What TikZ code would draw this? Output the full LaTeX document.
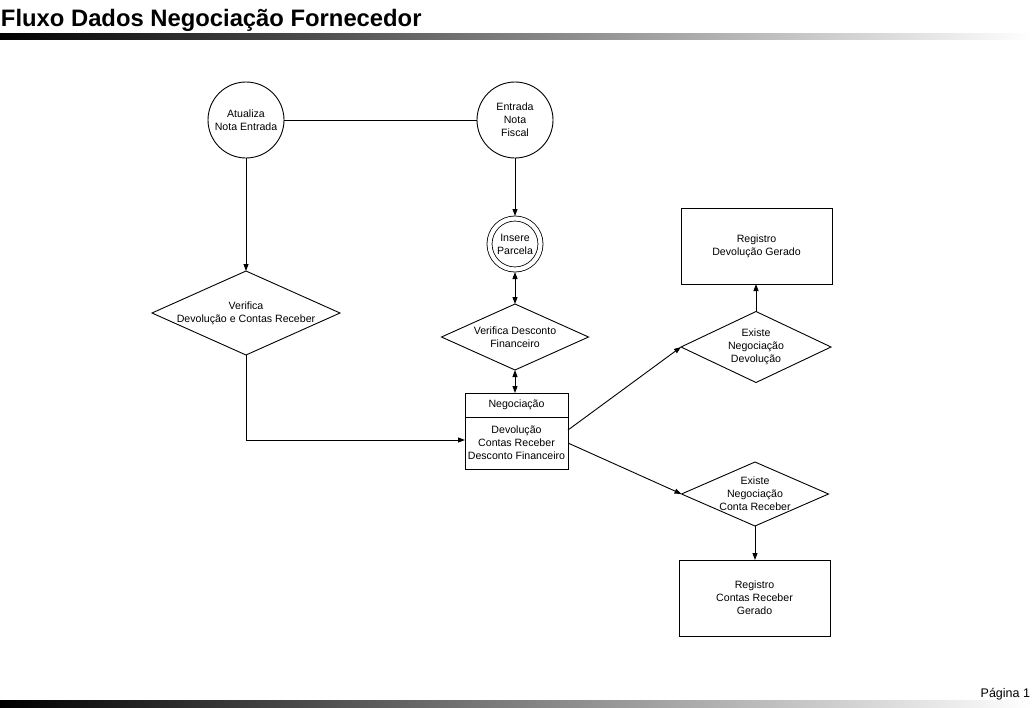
\documentclass[tikz,border=0pt]{standalone}
\usepackage{fontspec}
\setmainfont{Liberation Sans}
\usepackage{tikz}
\usetikzlibrary{shapes,arrows.meta,positioning}
\tikzset{
  >={Triangle[length=7pt,width=5pt]},
  every node/.style={font=\fontsize{10.6}{13}\selectfont,align=center,inner sep=0pt,outer sep=0pt},
  linha/.style={line width=0.9pt},
  processo/.style={circle,draw,line width=0.9pt,minimum size=76pt},
  duplo/.style={circle,draw,line width=0.8pt,double,double distance=4.2pt,minimum size=51pt,outer sep=2.5pt},
  decisao/.style args={#1,#2}{
  diamond,
  draw,
  line width=0.9pt,
  minimum width=#1pt,
  minimum height=#2pt,
  },
  registro/.style args={#1,#2}{
  rectangle,
  draw,
  line width=0.9pt,
  minimum width=#1pt,
  minimum height=#2pt,
  }
}

\begin{document}
\begin{tikzpicture}[x=1pt,y=-1pt]
  \useasboundingbox (0,0) rectangle (1032,707);

  \node[anchor=base west,font=\bfseries\fontsize{23.8}{28}\selectfont] (titulo) at (1,26) {Fluxo Dados Negociação Fornecedor};
  \shade[left color=black,right color=white] (0,33) rectangle (1032,39);
  \shade[left color=black,right color=white] (0,700) rectangle (1032,707);
  \node[anchor=base east,font=\fontsize{12.5}{15}\selectfont] (pagina) at (1030,697) {Página 1};

  \node[processo] (atual) at (246,120) {Atualiza\\Nota Entrada};
  \node[processo] (entrada) at (515,120) {Entrada\\Nota\\Fiscal};
  \node[duplo] (insere) at (515,244) {Insere\\Parcela};
  \node[decisao={188,84},label={center:{Verifica\\Devolução e Contas Receber}}] (verdev) at (246,313) {};
  \node[decisao={147,66},label={center:{Verifica Desconto\\Financeiro}}] (verdesc) at (515,337) {};

  \node[registro={103,24}] (neg) at (516.5,405) {Negociação};
  \node[registro={103,52},below=0pt of neg] (negc) {Devolução\\Contas Receber\\Desconto Financeiro};

  \node[decisao={150,71},label={center:{Existe\\Negociação\\Devolução}}] (exdev) at (756,347) {};
  \node[registro={151,76}] (regdev) at (756.5,246) {Registro\\Devolução Gerado};
  \node[decisao={147,64},label={center:{Existe\\Negociação\\Conta Receber}}] (exrec) at (755,494) {};
  \node[registro={151,76}] (regrec) at (754.5,598) {Registro\\Contas Receber\\Gerado};

  \draw[linha] (atual) -- (entrada);
  \draw[linha,->] (atual) -- (verdev);
  \draw[linha,->] (verdev.south) |- ([yshift=3pt]negc.west);
  \draw[linha,->] (entrada) -- (insere);
  \draw[linha,<->] (insere) -- (verdesc);
  \draw[linha,<->] (verdesc.south) -- (verdesc.south |- neg.north);
  \draw[linha,->] ([yshift=13pt]negc.east) -- (exdev.west);
  \draw[linha,->] (negc.east) -- (exrec.west);
  \draw[linha,->] (exdev.north) -- (exdev.north |- regdev.south);
  \draw[linha,->] (exrec.south) -- (exrec.south |- regrec.north);
\end{tikzpicture}
\end{document}
